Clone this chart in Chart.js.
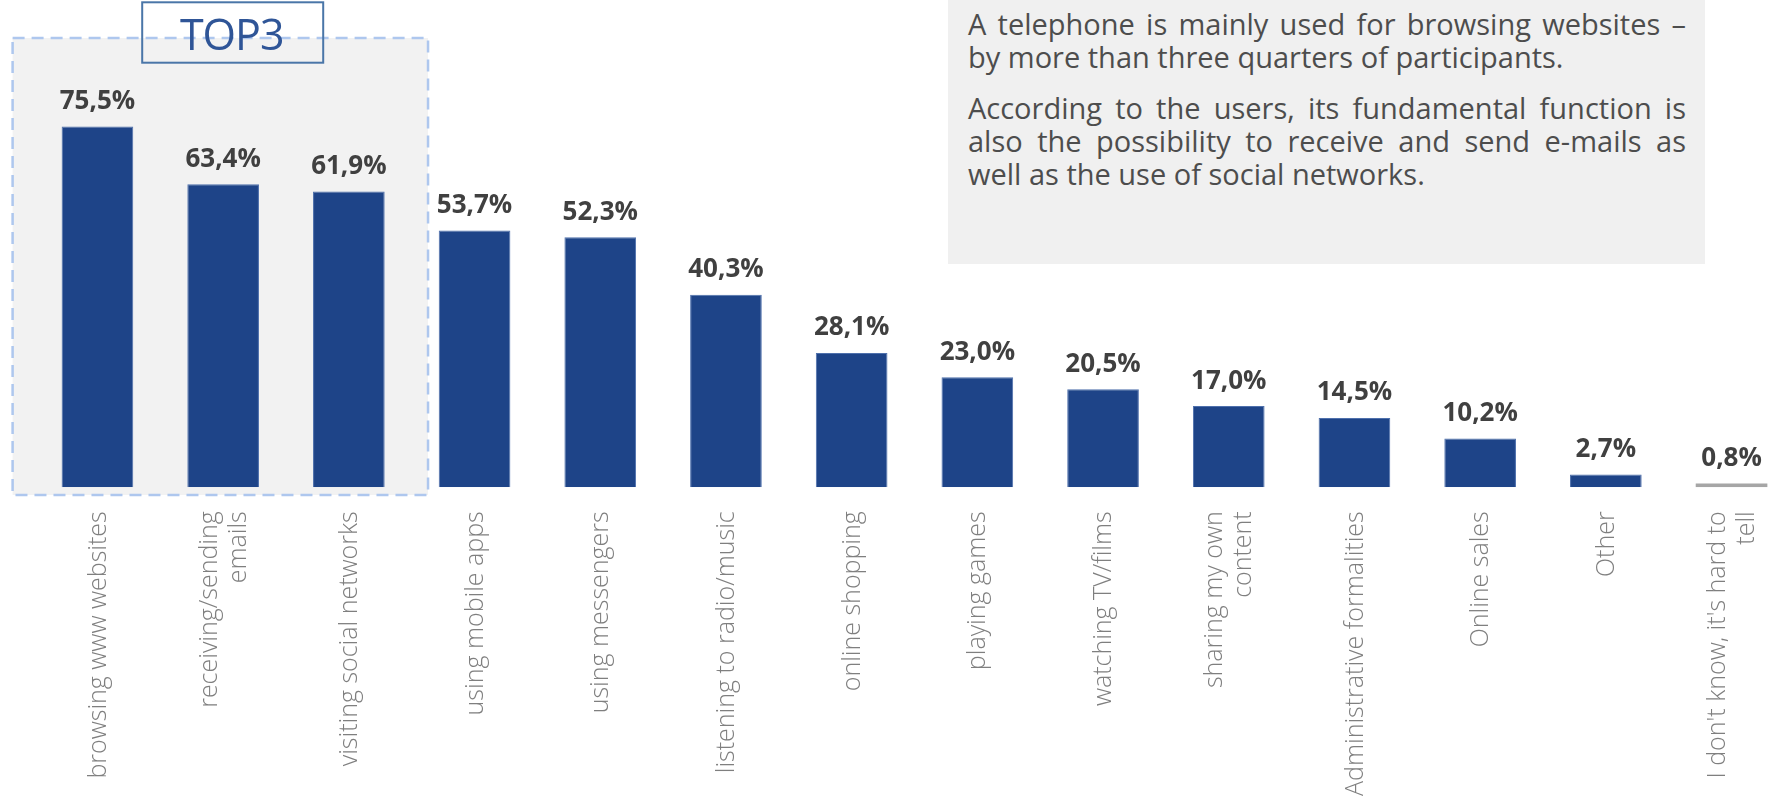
<!DOCTYPE html>
<html>
<head>
<meta charset="utf-8">
<script src="https://cdn.jsdelivr.net/npm/chart.js@4/dist/chart.umd.min.js"></script>
<style>
  html, body { margin: 0; padding: 0; background: #ffffff; }
  body { width: 1769px; height: 798px; overflow: hidden; position: relative; }
  #chart { position: absolute; left: 0; top: 0; }
  .note {
    position: absolute; left: 948px; top: 0; width: 757px; height: 264px;
    background: #F0F0F0;
  }
  .note div {
    position: absolute; left: 20px; width: 718px;
    font-family: "Open Sans", sans-serif; font-size: 29px; line-height: 1;
    color: #4d4d4d; white-space: nowrap;
  }
  .note .just { text-align: justify; text-align-last: justify; white-space: normal; }
</style>
</head>
<body>
<canvas id="chart" width="1800" height="798"></canvas>
<div class="note">
  <div class="just" style="top:9px">A telephone is mainly used for browsing websites –</div>
  <div style="top:42.4px">by more than three quarters of participants.</div>
  <div class="just" style="top:92.5px">According to the users, its fundamental function is</div>
  <div class="just" style="top:126px">also the possibility to receive and send e-mails as</div>
  <div style="top:159.3px">well as the use of social networks.</div>
</div>
<script>
// Phone usage categories (multi-line labels as arrays)
const categories = [
  'browsing www websites',
  ['receiving/sending', 'emails'],
  'visiting social networks',
  'using mobile apps',
  'using messengers',
  'listening to radio/music',
  'online shopping',
  'playing games',
  'watching TV/films',
  ['sharing my own', 'content'],
  'Administrative formalities',
  'Online sales',
  'Other',
  ["I don't know, it's hard to", 'tell']
];

// Share of participants, %
const shares = [75.5, 63.4, 61.9, 53.7, 52.3, 40.3, 28.1, 23.0, 20.5, 17.0, 14.5, 10.2, 2.7, 0.8];

// Categories grouped in the highlighted block
const topGroup = [0, 1, 2];
const topTitle = 'TOP3';

const NAVY = '#1E4488';
const GREY_BAR = '#A6A6A6';
const barColors = shares.map((v, i) => i === shares.length - 1 ? GREY_BAR : NAVY);
const barBorders = shares.map((v, i) => i === shares.length - 1 ? GREY_BAR : '#4E70AC');
const barBorderWidths = shares.map((v, i) => i === shares.length - 1 ? 0 : 1);

const fmt = v => v.toFixed(1).replace('.', ',') + '%';

// Shaded, dashed frame around the top group plus its title box
const topFrame = {
  id: 'topFrame',
  beforeDatasetsDraw(chart) {
    const { ctx } = chart;
    const x = chart.scales.x;
    const step = x.getPixelForValue(1) - x.getPixelForValue(0);
    const left = x.getPixelForValue(topGroup[0]) - 0.675 * step;
    const right = x.getPixelForValue(topGroup[topGroup.length - 1]) + 0.63 * step;
    const top = 38, bottom = 495;
    ctx.save();
    ctx.fillStyle = '#F2F2F2';
    ctx.fillRect(left, top, right - left, bottom - top);
    ctx.setLineDash([12, 7]);
    ctx.lineWidth = 2.5;
    ctx.strokeStyle = '#AEC7EE';
    ctx.strokeRect(left, top, right - left, bottom - top);
    ctx.setLineDash([]);
    // title box
    const bx = left + 129.6, bw = 181, by = 2.3, bh = 60.4;
    ctx.lineWidth = 2;
    ctx.strokeStyle = '#4A76A8';
    ctx.strokeRect(bx, by, bw, bh);
    ctx.fillStyle = '#2F5597';
    ctx.font = '43px "Open Sans", sans-serif';
    ctx.letterSpacing = '-1px';
    ctx.textAlign = 'center';
    ctx.textBaseline = 'alphabetic';
    ctx.fillText(topTitle, bx + bw / 2 - 1, 50);
    ctx.restore();
  }
};

// Value labels above the bars
const valueLabels = {
  id: 'valueLabels',
  afterDatasetsDraw(chart) {
    const { ctx } = chart;
    const meta = chart.getDatasetMeta(0);
    ctx.save();
    ctx.font = 'bold 26px "Open Sans", sans-serif';
    ctx.fillStyle = '#404040';
    ctx.textAlign = 'center';
    ctx.textBaseline = 'alphabetic';
    meta.data.forEach((bar, i) => {
      ctx.fillText(fmt(shares[i]), bar.x, bar.y - 17.5);
    });
    ctx.restore();
  }
};

// Vertical category labels under the axis, line blocks centred on each tick
const categoryLabels = {
  id: 'categoryLabels',
  afterDraw(chart) {
    const { ctx } = chart;
    const x = chart.scales.x;
    const lh = 29;
    const y0 = chart.chartArea.bottom + 24;
    ctx.save();
    ctx.font = '300 25px "Open Sans", sans-serif';
    ctx.fillStyle = '#7F7F7F';
    ctx.textAlign = 'right';
    ctx.textBaseline = 'middle';
    categories.forEach((label, i) => {
      const lines = Array.isArray(label) ? label : [label];
      const px = x.getPixelForValue(i);
      ctx.save();
      ctx.translate(px, y0);
      ctx.rotate(-Math.PI / 2);
      lines.forEach((line, j) => {
        ctx.fillText(line, 0, (j - (lines.length - 1) / 2) * lh + 1);
      });
      ctx.restore();
    });
    ctx.restore();
  }
};

new Chart(document.getElementById('chart'), {
  type: 'bar',
  data: {
    labels: categories,
    datasets: [{
      data: shares,
      backgroundColor: barColors,
      borderColor: barBorders,
      borderWidth: barBorderWidths,
      categoryPercentage: 1,
      barPercentage: 0.57
    }]
  },
  options: {
    responsive: false,
    animation: false,
    layout: { padding: { left: 34.6, right: 5.6, top: 9.3, bottom: 0 } },
    plugins: { legend: { display: false }, tooltip: { enabled: false } },
    scales: {
      x: {
        grid: { display: false, drawTicks: false },
        border: { display: false },
        ticks: { display: false },
        afterFit(scale) { scale.height = 310.7; }
      },
      y: { display: false, min: 0, max: 100 }
    }
  },
  plugins: [topFrame, valueLabels, categoryLabels]
});
</script>
</body>
</html>
